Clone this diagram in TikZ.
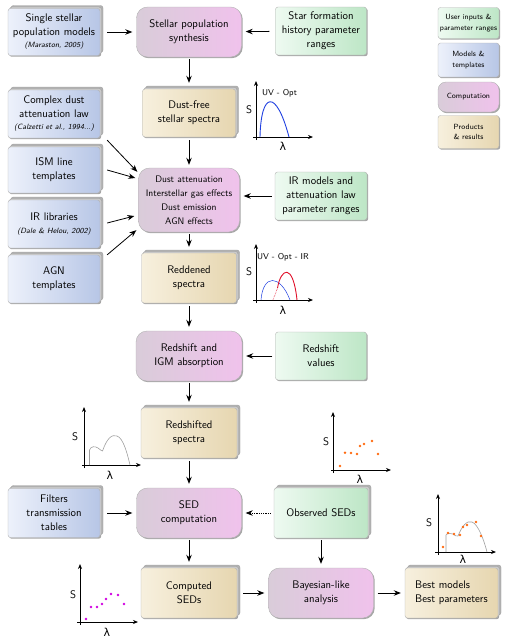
\documentclass[tikz,border=0pt]{standalone}
\usepackage{fontspec}
\newfontfamily\grk{DejaVu Sans}
\usetikzlibrary{shadows,arrows.meta,calc}
\definecolor{gL}{HTML}{EEFAF1}
\definecolor{gR}{HTML}{BDE6C6}
\definecolor{bL}{HTML}{EDF1FB}
\definecolor{bR}{HTML}{B7C6E6}
\definecolor{pL}{HTML}{D9CCD9}
\definecolor{pR}{HTML}{F0C2EC}
\definecolor{tL}{HTML}{F7F0DE}
\definecolor{tR}{HTML}{E6D6B0}
\definecolor{dotor}{HTML}{FF6A10}
\definecolor{dotmg}{HTML}{D000E0}
\definecolor{curveblue}{HTML}{1F3FE0}
\definecolor{curvered}{HTML}{E0102A}
\tikzset{
  boxbase/.style={draw=gray!60, line width=0.4pt, align=center, inner sep=1pt,
     font=\sffamily\fontsize{11}{14}\selectfont},
  sq/.style={rounded corners=2.5pt},
  shad/.style={drop shadow={shadow xshift=1.2pt, shadow yshift=-1.2pt, opacity=0.35, fill=black}},
  stack/.style={shad,
     general shadow={shadow xshift=3pt, shadow yshift=3pt, fill=gray!60, draw=gray!75, line width=0.4pt},
     general shadow={shadow xshift=1.5pt, shadow yshift=1.5pt, fill=gray!40, draw=gray!75, line width=0.4pt}},
  inbox/.style={boxbase, sq, shad, left color=gL, right color=gR},
  modbox/.style={boxbase, sq, stack, left color=bL, right color=bR},
  compbox/.style={boxbase, rounded corners=11pt, shad, left color=pL, right color=pR},
  prodbox/.style={boxbase, sq, stack, left color=tL, right color=tR},
  obsbox/.style={boxbase, sq, stack, left color=gL, right color=gR},
  arr/.style={-{Stealth[length=7pt,width=5.5pt]}, line width=0.8pt, shorten >=4pt, shorten <=4pt},
  axis/.style={-{Stealth[length=5pt,width=4pt]}, line width=0.8pt},
  lbl/.style={font=\sffamily\fontsize{11}{13}\selectfont, inner sep=0pt},
  bandlbl/.style={font=\sffamily\fontsize{8.5}{10}\selectfont, inner sep=0pt, anchor=west},
  leg/.style={font=\sffamily\fontsize{7.5}{10.5}\selectfont},
  odot/.style={fill=dotor, draw=none},
  mdot/.style={fill=dotmg, draw=none},
}
\newcommand{\citetxt}[1]{{\fontsize{7.6}{8.5}\selectfont\itshape #1}}
\begin{document}
\begin{tikzpicture}[x=1pt,y=-1pt]
\useasboundingbox (0,0) rectangle (510,643);

% ---- left column: models & templates
\node[modbox, minimum width=92pt, minimum height=47pt] (ssp) at (54,32)
  {Single stellar\\population models\\[-2pt]\citetxt{(Maraston, 2005)}};
\node[modbox, minimum width=92pt, minimum height=48pt] (cdust) at (54,114)
  {Complex dust\\attenuation law\\[-2pt]\citetxt{(Calzetti et al., 1994...)}};
\node[modbox, minimum width=92pt, minimum height=46pt] (ism) at (54,170)
  {ISM line\\templates};
\node[modbox, minimum width=92pt, minimum height=48pt] (irlib) at (54,224)
  {IR libraries\\[-1pt]\citetxt{(Dale \& Helou, 2002)}};
\node[modbox, minimum width=92pt, minimum height=48pt] (agn) at (54,279)
  {AGN\\templates};
\node[modbox, minimum width=92pt, minimum height=49pt] (filt) at (54,513)
  {Filters\\transmission\\tables};

% ---- centre column
\node[compbox, minimum width=105pt, minimum height=50pt] (sps) at (189,32)
  {Stellar population\\synthesis};
\node[prodbox, minimum width=93pt, minimum height=48pt] (dfree) at (189,113)
  {Dust-free\\stellar spectra};
\node[compbox, minimum width=101pt, minimum height=64pt,
  font=\sffamily\fontsize{9.5}{14}\selectfont] (dust) at (189,200)
  {Dust attenuation\\Interstellar gas effects\\Dust emission\\AGN effects};
\node[prodbox, minimum width=95pt, minimum height=50pt] (redd) at (189,278)
  {Reddened\\spectra};
\node[compbox, minimum width=106pt, minimum height=50pt] (igm) at (189,356)
  {Redshift and\\IGM absorption};
\node[prodbox, minimum width=96pt, minimum height=50pt] (rshift) at (189,433)
  {Redshifted\\spectra};
\node[compbox, minimum width=105pt, minimum height=50pt] (sedc) at (189,513)
  {SED\\computation};
\node[prodbox, minimum width=96pt, minimum height=50pt] (comp) at (189,593)
  {Computed\\SEDs};

% ---- right column
\node[inbox, minimum width=91pt, minimum height=48pt] (sfh) at (321,31)
  {Star formation\\history parameter\\ranges};
\node[inbox, minimum width=92pt, minimum height=48pt] (irm) at (321,196)
  {IR models and\\attenuation law\\parameter ranges};
\node[inbox, minimum width=91pt, minimum height=48pt] (rsv) at (321,356)
  {Redshift\\values};
\node[obsbox, minimum width=94pt, minimum height=50pt] (obs) at (321,513)
  {Observed SEDs};
\node[compbox, minimum width=105pt, minimum height=50pt] (bayes) at (321,593)
  {Bayesian-like\\analysis};
\node[prodbox, minimum width=93pt, minimum height=50pt, align=left] (best) at (451.5,593)
  {Best models\\Best parameters};

% ---- legend
\node[inbox, leg, minimum width=61pt, minimum height=31pt] (lin) at (468.5,23)
  {User inputs \&\\parameter ranges};
\node[boxbase, sq, shad, left color=bL, right color=bR, leg, minimum width=61pt, minimum height=34pt] (lmod) at (468.5,60)
  {Models \&\\templates};
\node[compbox, leg, rounded corners=8pt, minimum width=61pt, minimum height=30pt] (lcomp) at (468.5,97)
  {Computation};
\node[boxbase, sq, shad, left color=tL, right color=tR, leg, minimum width=61pt, minimum height=33pt] (lprod) at (468.5,132)
  {Products\\\& results};

% ---- connectors
\draw[arr, shorten <=7pt] (ssp) -- (sps);
\draw[arr, shorten <=6pt] (sfh) -- (sps);
\draw[arr, shorten <=2pt, shorten >=6pt] (sps.south) -- (sps.south |- dfree.north);
\draw[arr, shorten <=3pt, shorten >=3pt] (dfree.south) -- (dfree.south |- dust.north);
\draw[arr, shorten <=0pt, shorten >=0pt] ($(cdust.south east)+(7,2)$) -- ($(dust.north west)+(-1,4)$);
\draw[arr, shorten <=0pt, shorten >=0pt] ($(ism.east)+(7,0)$) -- ($(dust.west)+(-3,-22)$);
\draw[arr, shorten <=0pt, shorten >=0pt] ($(irlib.east)+(7,-1)$) -- ($(dust.west)+(-4,16)$);
\draw[arr, shorten <=0pt, shorten >=0pt] ($(agn.north east)+(7,0)$) -- ($(dust.south west)+(-2,-2)$);
\draw[arr, shorten <=3pt] (irm) -- (irm -| dust.east);
\draw[arr, shorten <=2pt, shorten >=6pt] (dust.south) -- (dust.south |- redd.north);
\draw[arr, shorten <=3pt] (redd.south) -- (redd.south |- igm.north);
\draw[arr, shorten <=3pt] (rsv) -- (rsv -| igm.east);
\draw[arr, shorten <=2pt, shorten >=6pt] (igm.south) -- (igm.south |- rshift.north);
\draw[arr, shorten <=3pt] (rshift.south) -- (rshift.south |- sedc.north);
\draw[arr, shorten <=7pt] (filt) -- (sedc);
\draw[arr, densely dotted, line width=0.6pt, shorten <=3pt] (obs) -- (sedc);
\draw[arr, shorten <=2pt, shorten >=6pt] (sedc.south) -- (sedc.south |- comp.north);
\draw[arr, shorten <=2pt, shorten >=4pt] (obs.south) -- (obs.south |- bayes.north);
\draw[arr, shorten <=6pt] (comp) -- (bayes);
\draw[arr] (bayes) -- (best);

% ---- plot: dust-free
\draw[axis] (253,137) -- (313,137);
\draw[axis] (256,140) -- (256,81);
\node[lbl] at (249,110) {S};
\node[lbl] at (283,146) {\grk λ};
\node[bandlbl] at (262,93) {UV - Opt};
\draw[curveblue, line width=0.9pt] (260,137) .. controls (261,92) and (276,88) .. (289,137);

% ---- plot: reddened
\draw[axis] (253,300) -- (313,300);
\draw[axis] (256,303) -- (256,244);
\node[lbl] at (249,272) {S};
\node[lbl] at (283,310) {\grk λ};
\node[bandlbl] at (257,257) {UV - Opt - IR};
\draw[curveblue, line width=0.5pt] (261,300) .. controls (263,274) and (280,274) .. (290,300);
\draw[curvered, line width=0.6pt, densely dotted] (273,300) -- (277.5,288);
\draw[curvered, line width=0.9pt] (277.5,288) .. controls (281,268) and (293,262) .. (297,300);

% ---- plot: redshifted
\draw[axis] (82,465) -- (141,465);
\draw[axis] (84,468) -- (84,407);
\node[lbl] at (75,437) {S};
\node[lbl] at (110,475) {\grk λ};
\draw[gray!75, line width=0.6pt] (89.5,465) -- (89.5,450) .. controls (91,446) and (95,446) .. (98,448)
  .. controls (100,449) and (101,451) .. (102.5,451) .. controls (107,438) and (112,434) .. (117,436)
  .. controls (123,438) and (127,452) .. (130,465);

% ---- plot: observed
\draw[axis] (331,470) -- (391,470);
\draw[axis] (333,473) -- (333,412);
\node[lbl] at (326,442) {S};
\node[lbl] at (360,479) {\grk λ};
\foreach \px/\py in {340/466, 345/452.7, 351/453, 357/454, 360/446, 364/444, 372/441, 378/454}
  \fill[odot] (\px,\py) circle (1.4pt);

% ---- plot: computed
\draw[axis] (77,622) -- (138,622);
\draw[axis] (80,625) -- (80,564);
\node[lbl] at (73,595) {S};
\node[lbl] at (107,632) {\grk λ};
\foreach \px/\py in {86/619, 91/607, 97/607, 102/604, 106/599, 111/594, 118/595, 124/604}
  \fill[mdot] (\px,\py) circle (1.4pt);

% ---- plot: best
\draw[axis] (435,552) -- (496,552);
\draw[axis] (438,555) -- (438,494);
\node[lbl] at (429,523) {S};
\node[lbl] at (463,559) {\grk λ};
\draw[gray!75, line width=0.6pt] (446,552) -- (446,535) .. controls (447,533) and (451,533) .. (453,534)
  .. controls (455,535) and (456,537) .. (458,536) .. controls (462,526) and (467,520) .. (472,522)
  .. controls (478,524) and (484,540) .. (487,552);
\foreach \px/\py in {443/547, 448/533, 454/534, 460/535, 463/527, 467/525, 476/522, 481/536}
  \fill[odot] (\px,\py) circle (1.4pt);
\end{tikzpicture}
\end{document}
